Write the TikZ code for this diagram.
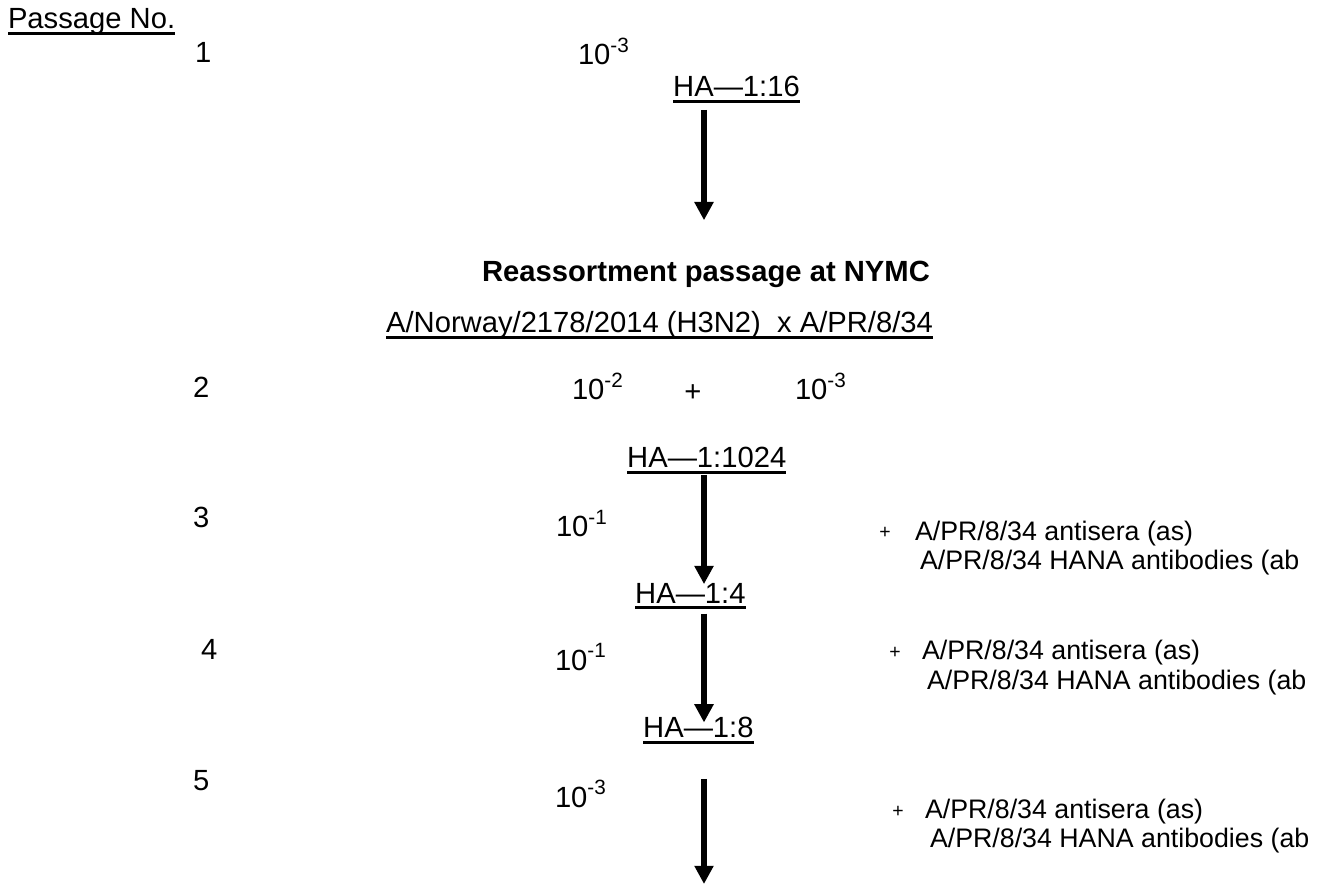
\documentclass[tikz,border=0pt]{standalone}
\usepackage{fontspec}
\setmainfont{Liberation Sans}
\usetikzlibrary{arrows.meta,positioning}
\newcommand{\ulbox}[1]{\sbox0{#1}\rlap{\rule[-2.3pt]{\wd0}{1.1pt}}\usebox0}
\newcommand{\dil}[1]{10\raisebox{5.3pt}{\fontsize{8.5}{8.5}\selectfont #1}}

\begin{document}
\begin{tikzpicture}[x=0.411pt,y=-0.411pt,
txt/.style={inner sep=0pt,outer sep=0pt,font=\fontsize{12}{14}\selectfont,anchor=base west},
side/.style={inner sep=0pt,outer sep=0pt,font=\fontsize{11}{13}\selectfont,anchor=base west},
plus/.style={inner sep=0pt,outer sep=0pt,font=\fontsize{8}{10}\selectfont},
ha/.style={txt,inner sep=0.5pt},
flow/.style={-{Triangle[length=7.5pt,width=7.5pt]},line width=2.5pt}
]
\useasboundingbox (0,0) rectangle (1317,884);
\coordinate (axis) at (704,0);

\node[txt] (head) at (8,29) {\ulbox{Passage No.}};

\node[txt] (p1) at (195,63) {1};
\node[txt] (d1) at (578,65) {\dil{-3}};
\node[ha] (ha16) at (672,97) {\ulbox{HA—1:16}};

\node[txt,font=\fontsize{12}{14}\selectfont\bfseries,anchor=base] (title) at (706,282) {Reassortment passage at NYMC};
\node[txt,anchor=base east] (cross) at (933,333) {\ulbox{A/Norway/2178/2014 (H3N2)\ \ x A/PR/8/34}};

\node[txt] (p2) at (193,398) {2};
\node[txt] (d2a) at (572,400) {\dil{-2}};
\node[txt,anchor=center] (mix) at (693,393) {+};
\node[txt] (d2b) at (795,400) {\dil{-3}};
\node[ha] (ha1024) at (626,468) {\ulbox{HA—1:1024}};

\node[txt] (p3) at (193,528) {3};
\node[txt] (d3) at (556,537) {\dil{-1}};
\node[plus] (add3) at (885,533) {+};
\node[side] (as3) at (915,541) {A/PR/8/34 antisera (as)};
\node[side] (ab3) at (920,570) {A/PR/8/34 HANA antibodies (ab};
\node[ha] (ha4) at (634,603) {\ulbox{HA—1:4}};

\node[txt] (p4) at (201,660) {4};
\node[txt] (d4) at (555,670) {\dil{-1}};
\node[plus] (add4) at (895,653) {+};
\node[side] (as4) at (922,660) {A/PR/8/34 antisera (as)};
\node[side] (ab4) at (927,689) {A/PR/8/34 HANA antibodies (ab};
\node[ha] (ha8) at (642,738) {\ulbox{HA—1:8}};

\node[txt] (p5) at (193,790) {5};
\node[txt] (d5) at (555,807) {\dil{-3}};
\node[plus] (add5) at (898,812) {+};
\node[side] (as5) at (925,818) {A/PR/8/34 antisera (as)};
\node[side] (ab5) at (930,847) {A/PR/8/34 HANA antibodies (ab};
\coordinate (next) at (704,884);

\draw[flow,shorten <=2.5pt,shorten >=17pt] (axis |- ha16.south) -- (axis |- title.north);
\draw[flow,shorten >=-1pt] (axis |- ha1024.south) -- (axis |- ha4.north);
\draw[flow,shorten <=1.6pt,shorten >=-2.5pt] (axis |- ha4.south) -- (axis |- ha8.north);
\draw[flow,shorten <=14pt] (axis |- ha8.south) -- (next);
\end{tikzpicture}
\end{document}
